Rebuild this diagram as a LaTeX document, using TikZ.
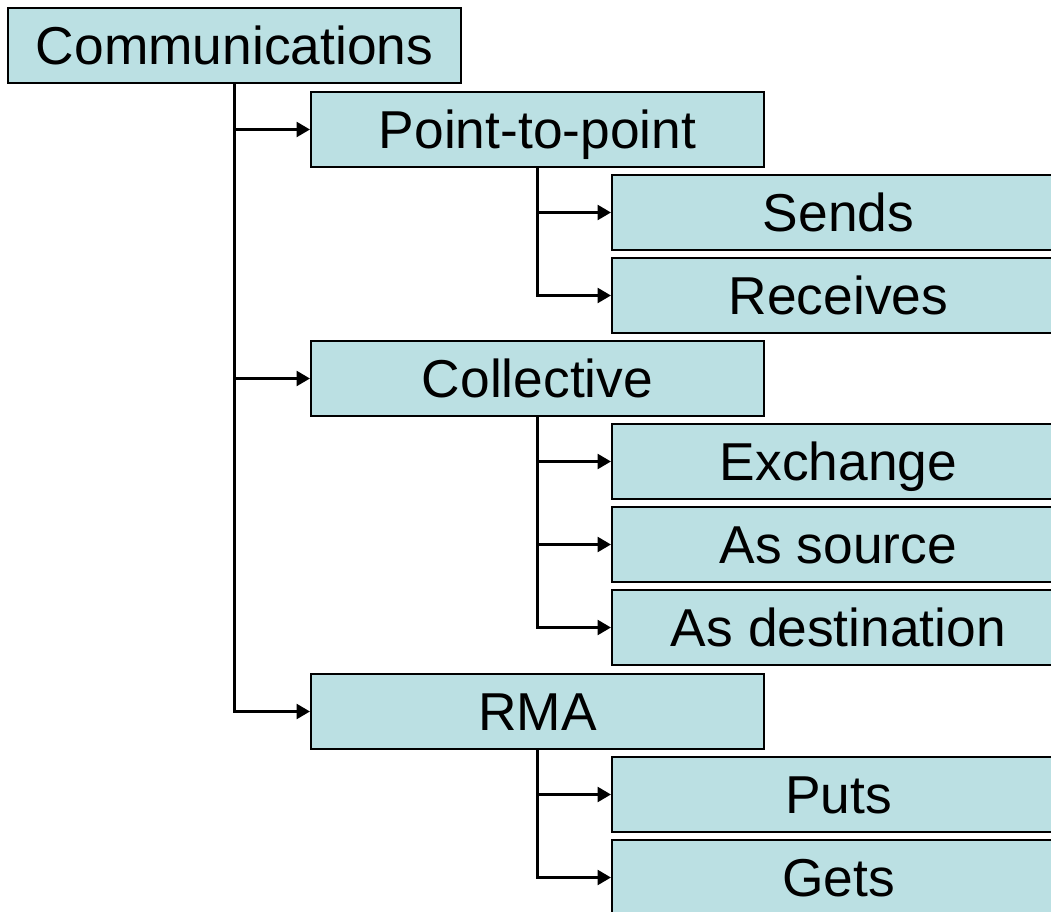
\documentclass[tikz,border=0pt]{standalone}
\usepackage{fontspec}
\setmainfont{Liberation Sans}
\usetikzlibrary{positioning, arrows.meta}

\definecolor{boxfill}{RGB}{187,224,227}

\tikzset{
  item/.style={draw=black, line width=1.5pt, fill=boxfill, minimum width=339.75pt,
    minimum height=56.25pt, inner sep=0pt, text height=28.5pt, text depth=0pt,
    font=\fontsize{40}{48}\selectfont},
  link/.style={line width=2.25pt, -{Triangle[length=10pt,width=11pt]}}
}

\begin{document}
\begin{tikzpicture}[x=0.75pt,y=-0.75pt]
		\useasboundingbox (0,0) rectangle (1051,912);
		\clip (0,0) rectangle (1051,912);

		\node[item] (comm) at (234.5,45.5) {Communications};
		\node[item] (ptp) at (537.5,129.5) {Point-to-point};
		\node[item] (sends) at (838.5,212.5) {Sends};
		\node[item] (recv) at (838.5,295.5) {Receives};
		\node[item] (coll) at (537.5,378.5) {Collective};
		\node[item] (exch) at (838.5,461.5) {Exchange};
		\node[item] (src) at (838.5,544.5) {As source};
		\node[item] (dest) at (838.5,627.5) {As destination};
		\node[item] (rma) at (537.5,711.5) {RMA};
		\node[item] (puts) at (838.5,794.5) {Puts};
		\node[item] (gets) at (838.5,877.5) {Gets};

		% top level
		\draw[link] (comm.south) |- (ptp.west);
		\draw[link] (comm.south) |- (coll.west);
		\draw[link] (comm.south) |- (rma.west);

		% second level
		\draw[link] (ptp.south) |- (sends.west);
		\draw[link] (ptp.south) |- (recv.west);
		\draw[link] (coll.south) |- (exch.west);
		\draw[link] (coll.south) |- (src.west);
		\draw[link] (coll.south) |- (dest.west);
		\draw[link] (rma.south) |- (puts.west);
		\draw[link] (rma.south) |- (gets.west);
	\end{tikzpicture}
\end{document}
